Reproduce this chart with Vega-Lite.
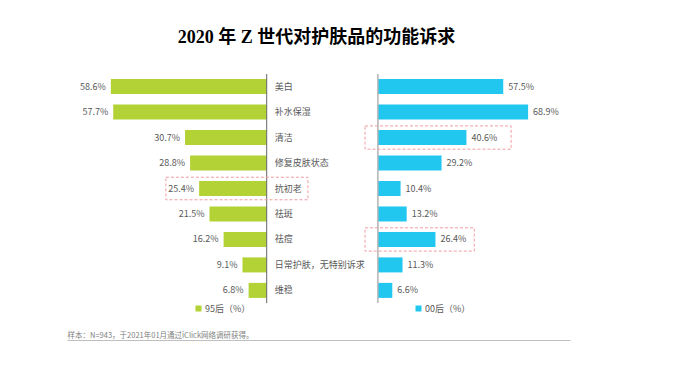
{
  "$schema": "https://vega.github.io/schema/vega-lite/v6.json",
  "autosize": {"type": "none"},
  "padding": {"top": 74, "left": 0, "right": 0, "bottom": 66},
  "width": 697,
  "height": 229,
  "background": "white",
  "config": {"view": {"stroke": null}, "font": "Noto Sans CJK SC"},
  "title": {
    "text": "2020 年 Z 世代对护肤品的功能诉求",
    "font": "Liberation Serif, Noto Sans CJK SC",
    "fontSize": 18,
    "fontWeight": "bold",
    "color": "#000000",
    "anchor": "middle",
    "frame": "group",
    "dx": -32,
    "offset": 26
  },
  "data": {
    "values": [
      {"item": "美白", "group": "95后", "value": 0.586},
      {"item": "补水保湿", "group": "95后", "value": 0.577},
      {"item": "清洁", "group": "95后", "value": 0.307},
      {"item": "修复皮肤状态", "group": "95后", "value": 0.288},
      {"item": "抗初老", "group": "95后", "value": 0.254},
      {"item": "祛斑", "group": "95后", "value": 0.215},
      {"item": "祛痘", "group": "95后", "value": 0.162},
      {"item": "日常护肤，无特别诉求", "group": "95后", "value": 0.091},
      {"item": "维稳", "group": "95后", "value": 0.068},
      {"item": "美白", "group": "00后", "value": 0.575},
      {"item": "补水保湿", "group": "00后", "value": 0.689},
      {"item": "清洁", "group": "00后", "value": 0.406},
      {"item": "修复皮肤状态", "group": "00后", "value": 0.292},
      {"item": "抗初老", "group": "00后", "value": 0.104},
      {"item": "祛斑", "group": "00后", "value": 0.132},
      {"item": "祛痘", "group": "00后", "value": 0.264},
      {"item": "日常护肤，无特别诉求", "group": "00后", "value": 0.113},
      {"item": "维稳", "group": "00后", "value": 0.066}
    ]
  },
  "resolve": {"scale": {"x": "independent", "color": "independent"}},
  "layer": [
    {
      "transform": [{"filter": "datum.group === '95后'"}],
      "layer": [
        {
          "mark": {"type": "bar", "cornerRadius": 0},
          "encoding": {
            "y": {"field": "item", "type": "nominal", "scale": {"domain": ["美白", "补水保湿", "清洁", "修复皮肤状态", "抗初老", "祛斑", "祛痘", "日常护肤，无特别诉求", "维稳"], "paddingInner": 0.41, "paddingOuter": 0.2}, "axis": null},
            "x": {"field": "value", "type": "quantitative", "scale": {"domain": [-1.6177, 1.0026], "reverse": true, "nice": false, "zero": false}, "axis": null},
            "x2": {"datum": 0},
            "color": {
              "field": "group", "type": "nominal",
              "scale": {"range": ["#b2d235"]},
              "legend": {"orient": "none", "legendX": 194, "legendY": 230, "title": null, "labelExpr": "datum.label + '（%）'", "symbolType": "square", "symbolSize": 36, "symbolStrokeWidth": 0, "labelFontSize": 9, "labelFont": "Noto Sans CJK SC", "labelColor": "#595959", "labelOffset": 2, "padding": 0}
            }
          }
        },
        {
          "mark": {"type": "text", "align": "right", "baseline": "middle", "dx": -5, "fontSize": 9, "color": "#595959"},
          "encoding": {
            "y": {"field": "item", "type": "nominal"},
            "x": {"field": "value", "type": "quantitative"},
            "text": {"field": "value", "type": "quantitative", "format": ".1%"}
          }
        },
        {
          "mark": {"type": "text", "align": "left", "baseline": "middle", "dx": 8, "fontSize": 9, "color": "#595959"},
          "encoding": {
            "y": {"field": "item", "type": "nominal"},
            "x": {"datum": 0, "type": "quantitative"},
            "text": {"field": "item", "type": "nominal"}
          }
        },
        {
          "data": {"values": [{}]},
          "mark": {"type": "rule", "color": "#666666", "strokeWidth": 1},
          "encoding": {"x": {"datum": 0, "type": "quantitative"}}
        },
        {
          "data": {"values": [{}]},
          "mark": {"type": "bar", "fill": "transparent", "stroke": "#f19ca2", "strokeDash": [3, 2], "strokeWidth": 1, "height": {"band": 1.5}},
          "encoding": {
            "y": {"datum": "抗初老", "type": "nominal"},
            "x": {"datum": 0.379, "type": "quantitative"},
            "x2": {"datum": -0.155}
          }
        }
      ]
    },
    {
      "transform": [{"filter": "datum.group === '00后'"}],
      "layer": [
        {
          "mark": {"type": "bar"},
          "encoding": {
            "y": {"field": "item", "type": "nominal"},
            "x": {"field": "value", "type": "quantitative", "scale": {"domain": [-1.7335, 1.4637], "nice": false, "zero": false}, "axis": null},
            "x2": {"datum": 0},
            "color": {
              "field": "group", "type": "nominal",
              "scale": {"range": ["#22c7f0"]},
              "legend": {"orient": "none", "legendX": 414, "legendY": 230, "title": null, "labelExpr": "datum.label + '（%）'", "symbolType": "square", "symbolSize": 36, "symbolStrokeWidth": 0, "labelFontSize": 9, "labelFont": "Noto Sans CJK SC", "labelColor": "#595959", "labelOffset": 2, "padding": 0}
            }
          }
        },
        {
          "mark": {"type": "text", "align": "left", "baseline": "middle", "dx": 5, "fontSize": 9, "color": "#595959"},
          "encoding": {
            "y": {"field": "item", "type": "nominal"},
            "x": {"field": "value", "type": "quantitative"},
            "text": {"field": "value", "type": "quantitative", "format": ".1%"}
          }
        },
        {
          "data": {"values": [{}]},
          "mark": {"type": "rule", "color": "#b3b3b3", "strokeWidth": 1.5},
          "encoding": {"x": {"datum": 0, "type": "quantitative"}}
        },
        {
          "data": {"values": [{}]},
          "mark": {"type": "bar", "fill": "transparent", "stroke": "#f19ca2", "strokeDash": [3, 2], "strokeWidth": 1, "height": {"band": 1.55}},
          "encoding": {
            "y": {"datum": "清洁", "type": "nominal"},
            "x": {"datum": -0.059, "type": "quantitative"},
            "x2": {"datum": 0.611}
          }
        },
        {
          "data": {"values": [{}]},
          "mark": {"type": "bar", "fill": "transparent", "stroke": "#f19ca2", "strokeDash": [3, 2], "strokeWidth": 1, "height": {"band": 1.55}},
          "encoding": {
            "y": {"datum": "祛痘", "type": "nominal"},
            "x": {"datum": -0.059, "type": "quantitative"},
            "x2": {"datum": 0.442}
          }
        }
      ]
    },
    {
      "data": {"values": [{}]},
      "mark": {"type": "rule", "opacity": 0},
      "encoding": {
        "x": {
          "datum": 0, "type": "quantitative",
          "scale": {"domain": [0, 1], "range": [67, 570], "nice": false, "zero": false},
          "axis": {"orient": "bottom", "offset": 37, "domain": true, "domainColor": "#bfbfbf", "domainWidth": 1, "ticks": false, "labels": false, "grid": false, "title": "样本：N=943，于2021年01月通过iClick网络调研获得。", "titleX": 67, "titleY": -5, "titleAlign": "left", "titleBaseline": "middle", "titleFontSize": 7.5, "titleFontWeight": "normal", "titleColor": "#7f7f7f", "titleFont": "Noto Sans CJK SC"}
        }
      }
    }
  ]
}
